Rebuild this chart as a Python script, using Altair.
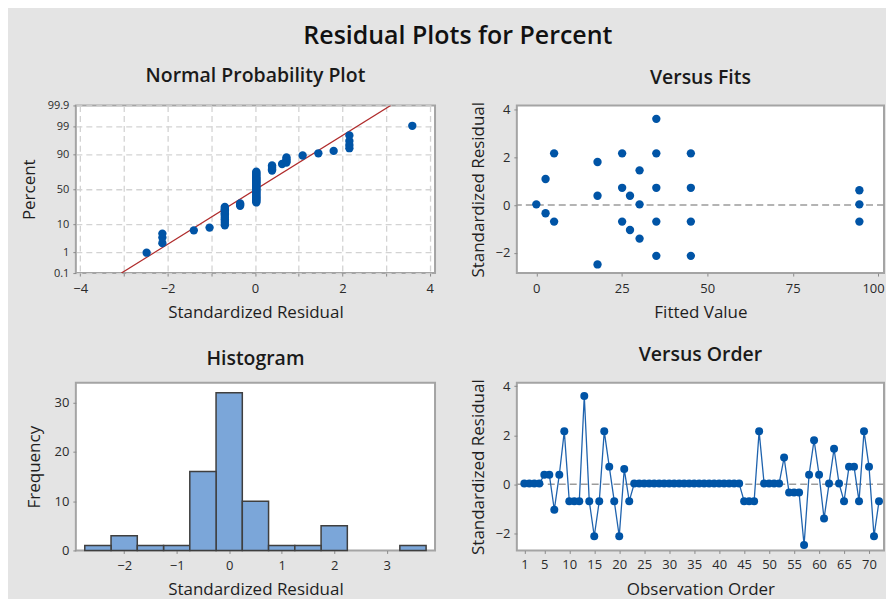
import altair as alt
import pandas as pd
import numpy as np
from statistics import NormalDist

# ---------------- data ----------------
# standardized residuals in observation order (1..72)
residuals = [
    0.03, 0.03, 0.03, 0.03, 0.39, 0.39, -1.04, 0.39, 2.16, -0.69,
    -0.69, -0.69, 3.60, -0.69, -2.12, -0.69, 2.16, 0.72, -0.69, -2.12,
    0.62, -0.69, 0.03, 0.03, 0.03, 0.03, 0.03, 0.03, 0.03, 0.03,
    0.03, 0.03, 0.03, 0.03, 0.03, 0.03, 0.03, 0.03, 0.03, 0.03,
    0.03, 0.03, 0.03, 0.03, -0.69, -0.69, -0.69, 2.16, 0.03, 0.03,
    0.03, 0.03, 1.09, -0.34, -0.34, -0.34, -2.48, 0.39, 1.80, 0.39,
    -1.40, 0.03, 1.45, 0.03, -0.69, 0.72, 0.72, -0.69, 2.16, 0.72,
    -2.12, -0.69,
]

# Versus Fits points (fitted value, standardized residual)
fit_values = [0.0, 2.7, 2.7, 5.2, 5.2, 17.9, 17.9, 17.9, 25.1, 25.1, 25.1,
              27.4, 27.4, 30.2, 30.2, 30.2, 35.1, 35.1, 35.1, 35.1, 35.1,
              45.2, 45.2, 45.2, 45.2, 94.5, 94.5, 94.5]
fit_resids = [0.03, 1.09, -0.34, 2.16, -0.69, 1.80, 0.39, -2.48, 2.16, 0.72, -0.69,
              0.39, -1.04, 1.45, 0.03, -1.40, 3.60, 2.16, 0.72, -0.69, -2.12,
              2.16, 0.72, -0.69, -2.12, 0.62, 0.03, -0.69]

pct_ticks = [0.1, 1, 10, 50, 90, 99, 99.9]
order_ticks = [1, 5, 10, 15, 20, 25, 30, 35, 40, 45, 50, 55, 60, 65, 70]
fit_ticks = [0, 25, 50, 75, 100]
resid_ticks = [-2, 0, 2, 4]
hist_x_ticks = [-2, -1, 0, 1, 2, 3]
hist_y_ticks = [0, 10, 20, 30]
npp_x_ticks = [-4, -3, -2, -1, 0, 1, 2, 3, 4]

# ---------------- styling ----------------
FONT = "Open Sans"
BLUE = "#0054a6"
LINE_BLUE = "#1f63ae"
BG = "#e4e4e4"
W_L, W_R, H = 360, 368, 168
N = len(residuals)

nd = NormalDist()
z_ticks = [nd.inv_cdf(round(p / 100, 6)) for p in pct_ticks]
z_lo, z_hi = z_ticks[0], z_ticks[-1]

df = pd.DataFrame({"obs": list(range(1, N + 1)), "resid": residuals})
fits_df = pd.DataFrame({"fit": fit_values, "res": fit_resids})
ref_df = pd.DataFrame({"ref": [0]})

mu = float(np.mean(residuals))
sd = float(np.std(residuals, ddof=1))
line_df = pd.DataFrame({"resid": [mu + sd * z_lo, mu + sd * z_hi], "z": [z_lo, z_hi]})


def xaxis(title, values, width, grid=False, labelExpr=None, titleY=40, labelPadding=6, **extra):
    kw = dict(title=title, values=values, titleX=width / 2, titleY=titleY,
              titleBaseline="middle", titleAlign="center", grid=grid,
              labelPadding=labelPadding)
    if grid:
        kw.update(gridDash=[6, 4], gridColor="#d3d3d3", gridWidth=1.3)
    if labelExpr:
        kw["labelExpr"] = labelExpr
    kw.update(extra)
    return alt.Axis(**kw)


def yaxis(title, values, titleX, grid=False, labelExpr=None, labelFontSize=13):
    kw = dict(title=title, values=values, titleX=titleX, titleY=H / 2, titleAngle=-90,
              titleBaseline="middle", titleAlign="center", grid=grid,
              labelFontSize=labelFontSize, labelPadding=4)
    if grid:
        kw.update(gridDash=[6, 4], gridColor="#d3d3d3", gridWidth=1.3)
    if labelExpr:
        kw["labelExpr"] = labelExpr
    return alt.Axis(**kw)


def ptitle(text):
    return alt.TitleParams(text, offset=13, anchor="middle", frame="group")


# ---------------- Normal probability plot ----------------
npp_x = alt.X("resid:Q", scale=alt.Scale(domain=[-4.1, 4.12], nice=False, zero=False),
              axis=xaxis("Standardized Residual", npp_x_ticks, W_L, grid=True,
                         labelExpr="datum.value % 2 === 0 ? datum.label : ''"))
npp_y = alt.Y("z:Q", scale=alt.Scale(domain=[z_lo, z_hi], nice=False, zero=False),
              axis=yaxis("Percent", z_ticks, -46, grid=True,
                         labelExpr="format(cumulativeNormal(datum.value) * 100, '.3~g')",
                         labelFontSize=11))

npp_line = alt.Chart(line_df).mark_line(color="#b02c2c", strokeWidth=1.2, clip=True).encode(
    x=npp_x, y=npp_y)
npp_pts = alt.Chart(df).transform_window(
    rank="row_number()", sort=[alt.SortField("resid", order="ascending")]
).transform_calculate(
    z=f"quantileNormal((datum.rank - 0.3) / ({N} + 0.4))"
).mark_circle(size=70, color=BLUE, opacity=1).encode(x=npp_x, y=npp_y)

npp = alt.layer(npp_line, npp_pts).properties(
    width=W_L, height=H, title=ptitle("Normal Probability Plot"))

# ---------------- Versus fits ----------------
fx = alt.X("fit:Q", scale=alt.Scale(domain=[-5.7, 101.7], nice=False, zero=False),
           axis=xaxis("Fitted Value", fit_ticks, W_R,
                      labelAlign=alt.expr("datum.value >= 100 ? 'right' : 'center'"),
                      labelOffset=alt.expr("datum.value >= 100 ? 6 : 0")))
fy = alt.Y("res:Q", scale=alt.Scale(domain=[-2.84, 4.16], nice=False, zero=False),
           axis=yaxis("Standardized Residual", resid_ticks, -38))
fits_pts = alt.Chart(fits_df).mark_circle(size=70, color=BLUE, opacity=1).encode(x=fx, y=fy)
fits_ref = alt.Chart(ref_df).mark_rule(color="#9c9c9c", strokeDash=[7, 4], strokeWidth=1.6).encode(
    y=alt.Y("ref:Q", scale=alt.Scale(domain=[-2.84, 4.16], nice=False, zero=False)))
fits = alt.layer(fits_ref, fits_pts).properties(
    width=W_R, height=H, title=ptitle("Versus Fits"))

# ---------------- Histogram ----------------
hx = alt.X("b0:Q", scale=alt.Scale(domain=[-2.92, 3.92], nice=False, zero=False),
           axis=xaxis("Standardized Residual", hist_x_ticks, W_L, titleY=39))
hy = alt.Y("count:Q", scale=alt.Scale(domain=[0, 34], nice=False),
           axis=yaxis("Frequency", hist_y_ticks, -41))
hist = alt.Chart(df).transform_bin(
    as_=["b0", "b1"], field="resid", bin=alt.Bin(extent=[-2.75, 3.75], step=0.5, nice=False)
).transform_aggregate(
    count="count()", groupby=["b0", "b1"]
).mark_bar(fill="#7ba6d9", stroke="#3f3f3f", strokeWidth=1.5).encode(
    x=hx, x2="b1:Q", y=hy, y2=alt.datum(0)
).properties(width=W_L, height=H, title=ptitle("Histogram"))

# ---------------- Versus order ----------------
ox = alt.X("obs:Q", scale=alt.Scale(domain=[-0.5, 73], nice=False, zero=False),
           axis=xaxis("Observation Order", order_ticks, W_R, titleY=39, labelPadding=5))
oy = alt.Y("resid:Q", scale=alt.Scale(domain=[-2.7, 4.14], nice=False, zero=False),
           axis=yaxis("Standardized Residual", resid_ticks, -38))
o_line = alt.Chart(df).mark_line(color=LINE_BLUE, strokeWidth=1.3).encode(x=ox, y=oy)
o_pts = alt.Chart(df).mark_circle(size=64, color=BLUE, opacity=1).encode(x=ox, y=oy)
o_ref = alt.Chart(ref_df).mark_rule(color="#9c9c9c", strokeDash=[7, 4], strokeWidth=1.6).encode(
    y=alt.Y("ref:Q", scale=alt.Scale(domain=[-2.7, 4.14], nice=False, zero=False)))
order = alt.layer(o_ref, o_line, o_pts).properties(
    width=W_R, height=H, title=ptitle("Versus Order"))

# ---------------- composition ----------------
chart = alt.concat(
    npp, fits, hist, order, columns=2,
    spacing=alt.RowColnumber(row=110, column=82), bounds="flush", align="each",
    title=alt.TitleParams("Residual Plots for Percent", fontSize=25, fontWeight=600,
                          anchor="middle", offset=16, dx=5, color="#111"),
).properties(
    background=BG,
    padding={"left": 12, "top": 15, "right": 0, "bottom": 0},
).configure(
    font=FONT,
).configure_view(
    stroke="#a4a4a4", strokeWidth=2, fill="white",
).configure_axis(
    domain=False, tickColor="#8a8a8a", tickSize=3,
    labelFont=FONT, labelFontSize=13, labelColor="#2a2a2a",
    titleFont=FONT, titleFontSize=17, titleFontWeight="normal", titleColor="#1e1e1e",
).configure_title(
    font=FONT, fontSize=19.5, fontWeight=600, color="#1a1a1a",
)

chart.save("out.html", embed_options={"renderer": "svg", "actions": False})
